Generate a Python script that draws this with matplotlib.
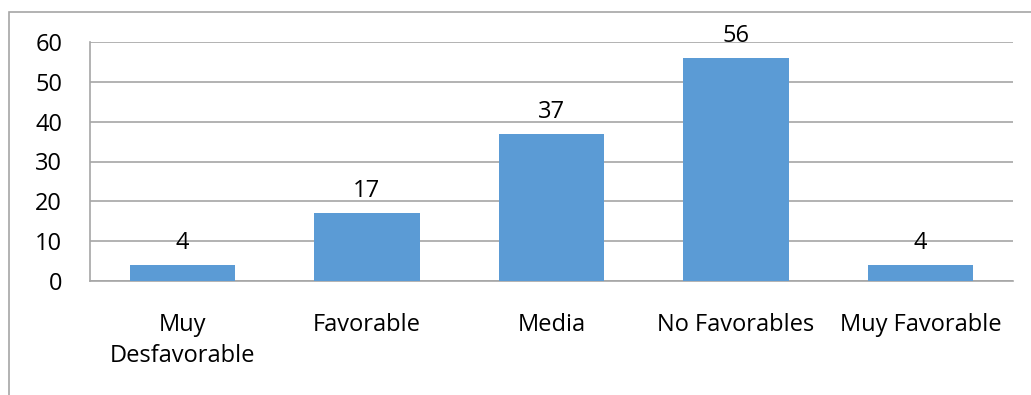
import matplotlib
matplotlib.use("Agg")
import matplotlib.pyplot as plt
from matplotlib.patches import Rectangle

categories = ["Muy\nDesfavorable", "Favorable", "Media", "No Favorables", "Muy Favorable"]
values = [4, 17, 37, 56, 4]
yticks = [0, 10, 20, 30, 40, 50, 60]

plt.rcParams['font.family'] = ['Open Sans', 'DejaVu Sans']
W, H = 1031, 395
FS = 17
fig = plt.figure(figsize=(W/100, H/100), dpi=100)
ax = fig.add_axes([90/W, 1-281/H, (1013-90)/W, (281-42)/H])

grid_c = "#a6a6a6"
x = list(range(len(categories)))
bars = ax.bar(x, values, width=0.57, color="#5b9bd5", zorder=3)
for xi, v in zip(x, values):
    ax.annotate(str(v), (xi, v), xytext=(0, 11.5), textcoords="offset points",
                ha="center", va="baseline", fontsize=FS, color="#000000", zorder=4)

ax.set_xlim(-0.5, len(categories)-0.5)
ax.set_ylim(0, 60)
ax.set_yticks(yticks)
ax.set_yticklabels([str(t) for t in yticks], fontsize=FS)
ax.set_xticks(x)
ax.set_xticklabels(categories, fontsize=FS, linespacing=1.4, va="top")
ax.tick_params(axis="y", length=0, pad=20)
ax.tick_params(axis="x", length=0, pad=23)
ax.grid(axis="y", color=grid_c, linewidth=1.2, zorder=0)
for s in ["top", "right"]:
    ax.spines[s].set_visible(False)
for s in ["left", "bottom"]:
    ax.spines[s].set_color(grid_c)
    ax.spines[s].set_linewidth(1.2)

fig.add_artist(Rectangle((9/W, -0.5), 2, 1.5 - 12/H, transform=fig.transFigure,
                         fill=False, edgecolor=grid_c, linewidth=1.2))
fig.savefig("out.png", dpi=100)
